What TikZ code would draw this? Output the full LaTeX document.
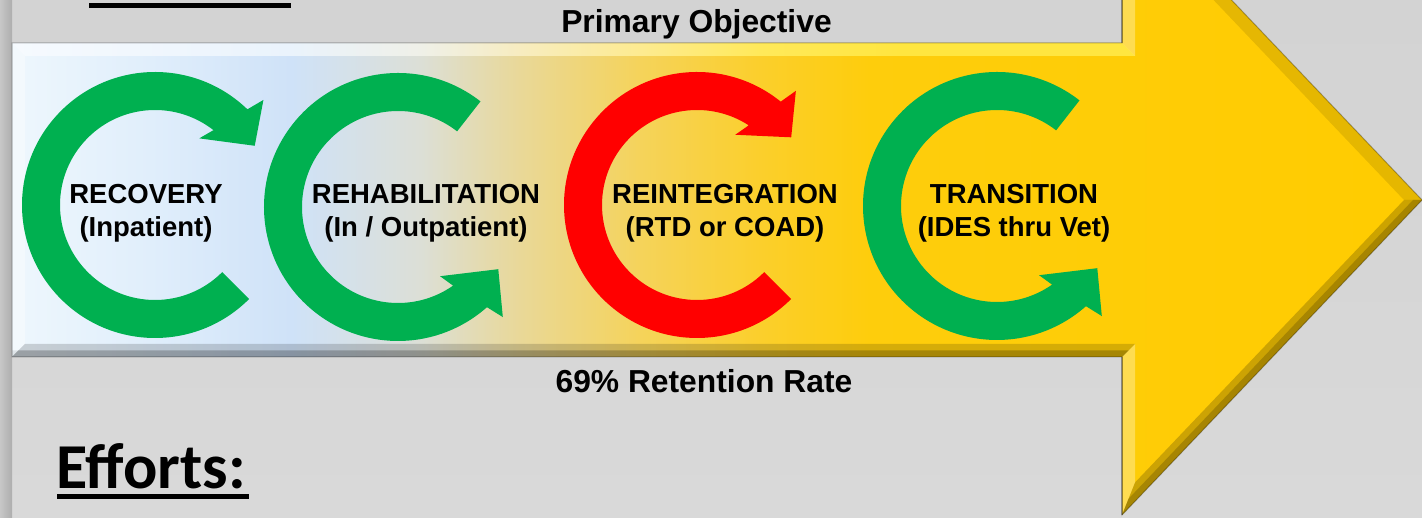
\documentclass[tikz,border=0pt]{standalone}
\usepackage{fontspec}
\setmainfont{Liberation Sans}
\newfontfamily\effortsfont{Carlito}
\usetikzlibrary{calc}
\definecolor{bgtop}{HTML}{D3D3D3}
\definecolor{bgbot}{HTML}{D9D9D9}
\definecolor{fc0}{HTML}{EEF7FD}
\definecolor{fc1}{HTML}{E0EEFB}
\definecolor{fc2}{HTML}{CFE2F8}
\definecolor{fc3}{HTML}{DCDFD6}
\definecolor{fc4}{HTML}{E9D898}
\definecolor{fc5}{HTML}{F5D35A}
\definecolor{fc6}{HTML}{FBCF2C}
\definecolor{fc7}{HTML}{FECD0C}
\definecolor{fc8}{HTML}{FFCC00}
\definecolor{tb0}{HTML}{F6FAFE}
\definecolor{tb1}{HTML}{EAF3FC}
\definecolor{tb2}{HTML}{EFF0E8}
\definecolor{tb3}{HTML}{F7ECC0}
\definecolor{tb4}{HTML}{FDEB90}
\definecolor{tb5}{HTML}{FFE95A}
\definecolor{tb6}{HTML}{FFE640}
\definecolor{ringgreen}{HTML}{00B050}
\definecolor{ringred}{HTML}{FF0000}
\pgfdeclarehorizontalshading{faceshade}{100bp}{color(0bp)=(fc0); color(25bp)=(fc0); color(29.9bp)=(fc1); color(34.9bp)=(fc2); color(39.5bp)=(fc3); color(43bp)=(fc4); color(47.3bp)=(fc5); color(51.5bp)=(fc6); color(55.4bp)=(fc7); color(75bp)=(fc8); color(100bp)=(fc8)}
\pgfdeclarehorizontalshading{topshade}{100bp}{color(0bp)=(tb0); color(25bp)=(tb0); color(37.4bp)=(tb1); color(43.2bp)=(tb2); color(47.6bp)=(tb3); color(53bp)=(tb4); color(58.3bp)=(tb5); color(64.5bp)=(tb6); color(75bp)=(tb6); color(100bp)=(tb6)}
\tikzset{
  lbl/.style={inner sep=0pt, anchor=base, text=black, font=\fontsize{27.5pt}{32pt}\selectfont\bfseries},
  ttl/.style={inner sep=0pt, anchor=base, text=black, font=\fontsize{31.8pt}{36pt}\selectfont\bfseries},
  lightband/.style={fill=white, fill opacity=#1},
  darkband/.style={fill=black, fill opacity=#1},
}
\begin{document}
\begin{tikzpicture}[x=1pt,y=1pt]
\useasboundingbox (0,0) rectangle (1422,517);
\clip (0,0) rectangle (1422,517);
% background
\shade[top color=bgtop, bottom color=bgbot] (0,0) rectangle (1422,517);
\shade[left color=black!22, right color=black!32] (0,0) rectangle (12,517);
\fill[black] (89,509) rectangle (291,513.5);

% arrow outline points
\coordinate (A) at (12,160);
\coordinate (B) at (12,474);
\coordinate (C) at (1122,474);
\coordinate (D) at (1122,632);
\coordinate (E) at (1422,317);
\coordinate (F) at (1122,2);
\coordinate (G) at (1122,160);
\coordinate (Ai) at (25,173);
\coordinate (Bi) at (25,461);
\coordinate (Ci) at (1135,461);
\coordinate (Di) at (1135,599.5);
\coordinate (Ei) at (1404,317);
\coordinate (Fi) at (1135,34.5);
\coordinate (Gi) at (1135,173);
\coordinate (Am) at (18.5,166.5);
\coordinate (Gm) at (1128.5,166.5);
\coordinate (Em) at (1413,317);
\coordinate (Fm) at (1128.5,18.2);

% face
\shade[shading=faceshade] (A) -- (B) -- (C) -- (D) -- (E) -- (F) -- (G) -- cycle;
% bevel bands
\shade[shading=topshade] (B) -- (C) -- (Ci) -- (Bi) -- cycle;
\fill[lightband=0.35] (A) -- (B) -- (Bi) -- (Ai) -- cycle;
\fill[darkband=0.08] (A) -- (B) -- (B|-Am) -- (Am) -- cycle;
\fill[darkband=0.16] (G) -- (A) -- (Ai) -- (Gi) -- cycle;
\fill[darkband=0.22] (G) -- (A) -- (Am) -- (Gm) -- cycle;
\fill[lightband=0.3] (C) -- (D) -- (Di) -- (Ci) -- cycle;
\fill[lightband=0.3] (F) -- (G) -- (Gi) -- (Fi) -- cycle;
\fill[darkband=0.1] (D) -- (E) -- (Ei) -- (Di) -- cycle;
\fill[darkband=0.2] (E) -- (F) -- (Fi) -- (Ei) -- cycle;
\fill[darkband=0.18] (E) -- (F) -- (Fm) -- (Em) -- cycle;
\draw[black, opacity=0.3, line width=2pt] (C) -- (D);
\draw[black, opacity=0.3, line width=2pt] (F) -- (G);
\draw[black, opacity=0.28, line width=1pt, line join=miter] (A) -- (B) -- (C) -- (D) -- (E) -- (F) -- (G) -- cycle;

% ring 1: RECOVERY
\begin{scope}[shift={(155,312)}]
\fill[ringgreen] (46:133pt) arc[start angle=46, end angle=315, radius=133pt]
  -- (315:95pt) arc[start angle=315, end angle=52, radius=95pt]
  -- (56.4:80pt) -- (30.7:116pt) -- (44.1:151pt) -- cycle;
\end{scope}
% ring 2: REHABILITATION
\begin{scope}[shift={(398,310)}]
\fill[ringgreen] (52:134pt) arc[start angle=52, end angle=311.6, radius=134pt]
  -- (313.6:152pt) -- (328.2:118pt) -- (301.3:81pt)
  -- (305:96pt) arc[start angle=305, end angle=52, radius=96pt] -- cycle;
\end{scope}
% ring 3: REINTEGRATION
\begin{scope}[shift={(697,312)}]
\fill[ringred] (51:133pt) arc[start angle=51, end angle=315, radius=133pt]
  -- (315:95pt) arc[start angle=315, end angle=57, radius=95pt]
  -- (61.4:80pt) -- (35.7:116pt) -- (49.1:151pt) -- cycle;
\end{scope}
% ring 4: TRANSITION
\begin{scope}[shift={(997,311)}]
\fill[ringgreen] (52:134pt) arc[start angle=52, end angle=311.6, radius=134pt]
  -- (313.6:152pt) -- (328.2:118pt) -- (301.3:81pt)
  -- (305:96pt) arc[start angle=305, end angle=52, radius=96pt] -- cycle;
\end{scope}

% labels
\node[lbl] (rec1) at (146,313.7) {RECOVERY};
\node[lbl] (rec2) at (146,280) {(Inpatient)};
\node[lbl] (reh1) at (426,313.7) {REHABILITATION};
\node[lbl] (reh2) at (426,280) {(In / Outpatient)};
\node[lbl] (rei1) at (725,313.7) {REINTEGRATION};
\node[lbl] (rei2) at (725,280) {(RTD or COAD)};
\node[lbl] (tra1) at (1014,313.7) {TRANSITION};
\node[lbl] (tra2) at (1014,280) {(IDES thru Vet)};

\node[ttl] (prim) at (696.5,484) {Primary Objective};
\node[ttl] (ret) at (704,124) {69\% Retention Rate};

\node[inner sep=0pt, anchor=base west, font=\effortsfont\fontsize{64pt}{72pt}\selectfont\bfseries] (eff) at (56,28.7) {Efforts:};
\fill[black] (57,18) rectangle (249,23.5);
\end{tikzpicture}
\end{document}
